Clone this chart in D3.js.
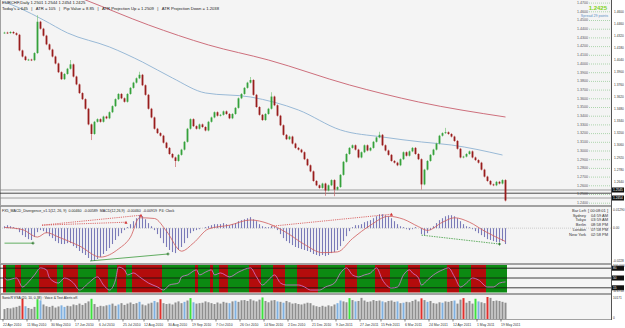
<!DOCTYPE html>
<html lang="en">
	<head>
		<meta charset="utf-8">
		<title>EURCHF, Daily</title>
		<script type="text/javascript" src="https://cdn.jsdelivr.net/npm/d3@7"></script>
		<style type="text/css">
			body { margin: 0; background: #ffffff; }
			svg { display: block; font-family: "Liberation Sans", Arial, sans-serif; }
		</style>
	</head>
	<body>
		<script type="text/javascript">

			//Width and height
			var w = 625;
			var h = 328;
			var plotRight = 611;

			//Daily closes, oldest first (22 Apr 2010 .. 19 May 2011)
			var firstOpen = 1.4352;
			var closes = [
				1.4355,1.4350,1.4362,1.4348,1.4330,1.4150,1.4080,1.4040,1.4045,1.4038,
				1.4120,1.4480,1.4400,1.4320,1.4220,1.4160,1.4080,1.4000,1.3900,1.3820,
				1.3880,1.3940,1.3990,1.3850,1.3760,1.3660,1.3590,1.3480,1.3300,1.3190,
				1.3330,1.3360,1.3330,1.3390,1.3370,1.3440,1.3510,1.3590,1.3650,1.3600,
				1.3560,1.3650,1.3720,1.3780,1.3830,1.3870,1.3750,1.3640,1.3480,1.3380,
				1.3250,1.3200,1.3170,1.3090,1.3030,1.2960,1.2920,1.2880,1.2950,1.3010,
				1.3100,1.3250,1.3360,1.3280,1.3250,1.3300,1.3270,1.3230,1.3330,1.3380,
				1.3440,1.3400,1.3410,1.3450,1.3420,1.3370,1.3420,1.3490,1.3600,1.3650,
				1.3720,1.3780,1.3810,1.3640,1.3500,1.3410,1.3350,1.3420,1.3480,1.3620,
				1.3520,1.3400,1.3290,1.3180,1.3130,1.3160,1.3080,1.3030,1.3010,1.2980,
				1.2900,1.2830,1.2760,1.2650,1.2600,1.2570,1.2620,1.2540,1.2600,1.2660,
				1.2550,1.2580,1.2720,1.2870,1.2960,1.3030,1.3060,1.3010,1.2920,1.2980,
				1.3060,1.3000,1.3030,1.3100,1.3150,1.3180,1.3060,1.3000,1.2950,1.2880,
				1.2860,1.2830,1.2900,1.2980,1.2940,1.2990,1.3030,1.2960,1.2900,1.2610,
				1.2780,1.2880,1.2950,1.3010,1.3080,1.3170,1.3200,1.3210,1.3190,1.3160,
				1.3110,1.3020,1.2920,1.2930,1.2960,1.2990,1.2920,1.2890,1.2860,1.2780,
				1.2700,1.2650,1.2610,1.2600,1.2640,1.2620,1.2660,1.2425
			];

			//Bars whose wick reaches well beyond the body
			var spikeBars  = [11, 22, 29, 45, 57, 82, 89, 107, 110, 125, 139, 147];
			var spikeHighs = [1.4555, 1.4040, null, 1.3905, null, 1.3845, 1.3670, null, null, 1.3215, null, 1.3260];
			var spikeLows  = [null, null, 1.3120, null, 1.2810, null, null, 1.2480, 1.2475, null, 1.2550, null];

			//Moving averages, read at a few bars
			var maBlueBars = [0, 5, 13, 21, 35, 46, 56, 67, 82, 98, 112, 126, 139, 149, 166];
			var maBlueVals = [1.4707, 1.4638, 1.4500, 1.4351, 1.4190, 1.4017, 1.3833, 1.3661, 1.3615, 1.3465, 1.3236, 1.3155, 1.3098, 1.3063, 1.2948];
			var maRedBars = [20, 27, 48, 68, 88, 115, 138, 167];
			var maRedVals = [1.4822, 1.4730, 1.4443, 1.4213, 1.4040, 1.3753, 1.3558, 1.3385];

			//Price labels drawn inside the chart, and the right axis
			var gridPrices = [1.47, 1.46, 1.45, 1.44, 1.43, 1.42, 1.41, 1.40, 1.39, 1.38, 1.37, 1.36,
				1.35, 1.34, 1.33, 1.32, 1.31, 1.30, 1.29, 1.28, 1.27, 1.26, 1.25, 1.24];
			var axisPrices = [1.4600, 1.4460, 1.4320, 1.4180, 1.4040, 1.3900, 1.3760, 1.3620,
				1.3480, 1.3340, 1.3200, 1.3060, 1.2920, 1.2780, 1.2640];
			var levelPrices = [1.2546, 1.2509, 1.2454];

			//MACD histogram per bar, in units of 0.0001
			var macdHist = [
				13,20,13,7,-7,-27,-47,-60,-74,-80,
				-60,-27,-13,-20,-34,-54,-67,-87,-101,-107,
				-107,-101,-101,-121,-134,-154,-168,-181,-201,-221,
				-221,-208,-194,-174,-154,-134,-107,-80,-54,-34,
				-13,7,27,47,67,87,80,60,34,13,
				-13,-40,-67,-101,-127,-147,-161,-168,-147,-127,
				-101,-67,-34,-20,-13,-7,0,7,13,20,
				27,27,27,34,27,20,27,34,47,54,
				60,67,74,60,47,27,13,7,7,13,
				7,-13,-40,-67,-87,-101,-114,-127,-134,-141,
				-147,-154,-161,-174,-181,-188,-181,-188,-181,-168,
				-161,-147,-121,-87,-54,-20,7,20,20,27,
				40,47,54,67,80,94,94,87,80,67,
				47,27,13,7,-7,-13,-7,7,0,-40,
				-47,-34,-13,13,34,54,67,80,87,87,
				80,67,47,27,13,7,-7,-20,-34,-47,
				-60,-74,-80,-87,-94,-94,-87,-107
			];
			var signalBars = [0, 6, 11, 14, 18, 25, 32, 38, 42, 45, 50, 54, 59, 63, 68, 75, 82, 88, 94, 100, 106, 111, 116, 122, 128, 133, 138, 141, 146, 150, 155, 160, 167];
			var signalVals = [5, -10, -60, -30, -60, -120, -195, -140, -60, 70, 65, -20, -155, -100, -5, 20, 55, 30, -30, -110, -165, -160, -70, 20, 80, 60, 10, -15, 40, 70, 40, -20, -90];

			//Divergence lines: [bar1, value1, bar2, value2]
			var bearLines = [[12.5, 20, 40.5, 40], [12.5, 20, 45.5, 87], [89, 13, 129, 94]];
			var bullLines = [[0, -101, 9.5, -101], [28.5, -221, 54.5, -174], [139, -47, 165, -107]];

			//Oscillator pane
			var oscBars = [0,1,4,6,8,10,12,14,15,18,20,23,25,28,31,33,35,37,38,40,41,43,45,48,51,53,55,58,59,61,64,65,67,69,70,72,75,78,82,84,86,88,90,92,94,98,100,102,105,107,110,112,114,116,118,120,122,124,126,129,131,133,135,136,138,139,141,143,146,148,150,152,154,156,158,161,163,165,167];
			var oscVals = [50,43,50,18,36,61,86,79,50,32,50,32,7,32,54,25,7,43,89,79,61,68,54,32,18,7,25,32,54,61,79,61,71,79,61,68,54,71,86,54,25,43,61,32,25,25,18,7,7,18,32,68,86,61,54,61,68,86,43,14,18,61,79,68,50,25,43,61,79,86,54,18,32,50,43,18,18,32,36];
			var oscLevels = [85, 50, 15];
			var bandStarts = [0,1,4,6,12,18,20,25,31,35,38,41,43,53,64,65,69,70,72,75,82,86,90,94,98,105,114,118,124,129,135,139,148,152,156,161];
			var bandEnds   = [1,4,6,12,18,20,25,31,35,38,41,43,53,64,65,69,70,72,75,82,86,90,94,98,105,114,118,124,129,135,139,148,152,156,161,168];
			var bandKinds  = ["dn","up","dn","up","dn","up","dn","up","dn","up","dn","up","dn","up","dn","up","dn","up","dn","up","dn","up","dn","up","dn","up","dn","up","dn","up","dn","up","dn","up","dn","up"];

			//Volume per bar
			var volumes = [
				45,50,48,52,55,60,92,58,50,46,55,90,85,66,58,55,60,52,57,62,
				55,60,58,66,63,70,64,72,80,92,68,55,60,58,62,65,70,60,66,72,
				64,70,75,68,72,78,66,62,70,74,82,76,90,72,68,70,66,75,80,72,
				78,84,95,76,70,72,74,80,76,72,68,75,70,78,74,72,80,83,78,85,
				86,82,90,84,80,88,98,82,76,84,86,80,78,74,82,76,70,72,68,66,
				70,74,72,62,58,55,60,56,62,58,66,72,84,80,76,95,86,80,82,96,
				84,78,80,86,82,84,80,76,82,84,78,80,72,74,78,76,82,88,80,94,
				86,78,82,72,70,76,74,80,78,82,84,70,88,95,74,82,70,92,80,76,
				72,100,96,82,84,82,78,74
			];
			var volRed = [6, 52, 139, 153, 161];
			var volGreen = [11, 29, 62, 86, 115, 157];
			var volBlue = [7, 12, 19, 20, 35, 38, 45, 50, 60, 63, 75, 77, 91, 93, 111, 112, 117, 126, 131, 133, 141, 146, 150, 158];

			//Date axis
			var dateBars = [0,8,16,24,32,40,47,55,63,71,79,87,95,103,111,119,126,134,142,150,158,166];
			var dateLabels = ["22 Apr 2010","11 May 2010","30 May 2010","17 Jun 2010","6 Jul 2010","25 Jul 2010",
				"12 Aug 2010","30 Aug 2010","19 Sep 2010","7 Oct 2010","26 Oct 2010","14 Nov 2010","2 Dec 2010",
				"21 Dec 2010","9 Jan 2011","27 Jan 2011","15 Feb 2011","6 Mar 2011","24 Mar 2011","12 Apr 2011",
				"1 May 2011","19 May 2011"];

			//Session clock
			var clockCities = ["Sydney", "Tokyo", "Berlin", "London", "New York"];
			var clockTimes = ["04:59 AM", "03:59 AM", "08:58 PM", "07:58 PM", "02:58 PM"];

			//Scales
			var xScale = d3.scaleLinear().domain([0, closes.length - 1]).range([4.5, 505.5]);
			var yPrice = d3.scaleLinear().domain([1.24, 1.47]).range([202.7, 2.6]);
			var yMacd = d3.scaleLinear().domain([-228, 129]).range([262, 209]);
			var yOsc = d3.scaleLinear().domain([0, 100]).range([292, 264]);
			var yVol = d3.scaleLinear().domain([0, 100]).range([319, 297]);

			//Create SVG element
			var svg = d3.select("body")
						.append("svg")
						.attr("width", w)
						.attr("height", h);

			svg.append("rect").attr("width", w).attr("height", h).attr("fill", "#ffffff");

			var defs = svg.append("defs");
			function addClip(id, y0, y1) {
				defs.append("clipPath").attr("id", id)
					.append("rect").attr("x", 0).attr("y", y0).attr("width", plotRight).attr("height", y1 - y0);
			}
			addClip("clipMain", 0, 205);
			addClip("clipMacd", 207, 263);
			addClip("clipOsc", 265, 293);
			addClip("clipVol", 295, 319);

			//Pane backgrounds
			function pane(y0, y1) {
				svg.append("rect")
					.attr("x", 0.5).attr("y", y0 + 0.5)
					.attr("width", plotRight).attr("height", y1 - y0)
					.attr("fill", "#f4f4f4")
					.attr("stroke", "#8c8c8c")
					.attr("stroke-width", 0.8);
			}
			pane(-1, 205);
			pane(206, 263);
			pane(264, 293);
			pane(294, 319);

			//---------- Main price pane ----------
			var main = svg.append("g").attr("clip-path", "url(#clipMain)");

			//Inner price labels with dotted guide lines
			main.selectAll("line.guide")
				.data(gridPrices)
				.enter()
				.append("line")
				.attr("class", "guide")
				.attr("x1", 589).attr("x2", plotRight)
				.attr("y1", function(d) { return yPrice(d) + 0.5; })
				.attr("y2", function(d) { return yPrice(d) + 0.5; })
				.attr("stroke", "#7cc07c")
				.attr("stroke-width", 0.6)
				.attr("stroke-dasharray", "1,1");

			main.selectAll("text.grid")
				.data(gridPrices)
				.enter()
				.append("text")
				.attr("class", "grid")
				.attr("x", 588)
				.attr("y", function(d) { return yPrice(d) + 1.3; })
				.attr("text-anchor", "end")
				.attr("font-size", "3.6px")
				.attr("fill", "#555555")
				.text(function(d) { return d.toFixed(4); });

			//Horizontal levels near the lows
			main.selectAll("line.level")
				.data(levelPrices)
				.enter()
				.append("line")
				.attr("class", "level")
				.attr("x1", 0).attr("x2", plotRight)
				.attr("y1", function(d) { return yPrice(d); })
				.attr("y2", function(d) { return yPrice(d); })
				.attr("stroke", function(d, i) { return i == 1 ? "#222222" : "#8a8a8a"; })
				.attr("stroke-width", 0.8);

			//Moving averages
			var maLine = d3.line()
				.x(function(d) { return xScale(d[0]); })
				.y(function(d) { return yPrice(d[1]); })
				.curve(d3.curveMonotoneX);

			main.append("path")
				.datum(d3.zip(maRedBars, maRedVals))
				.attr("d", maLine)
				.attr("fill", "none")
				.attr("stroke", "#c8606e")
				.attr("stroke-width", 0.9);

			main.append("path")
				.datum(d3.zip(maBlueBars, maBlueVals))
				.attr("d", maLine)
				.attr("fill", "none")
				.attr("stroke", "#8fb2d2")
				.attr("stroke-width", 0.9);

			//Candles
			var candles = closes.map(function(c, i) {
				var o = i == 0 ? firstOpen : closes[i - 1];
				var hi = Math.max(o, c) + 0.0010;
				var lo = Math.min(o, c) - 0.0010;
				var k = spikeBars.indexOf(i);
				if (k >= 0 && spikeHighs[k] != null) { hi = spikeHighs[k]; }
				if (k >= 0 && spikeLows[k] != null) { lo = spikeLows[k]; }
				return { i: i, o: o, h: hi, l: lo, c: c };
			});

			main.selectAll("line.wick")
				.data(candles)
				.enter()
				.append("line")
				.attr("class", "wick")
				.attr("x1", function(d) { return xScale(d.i); })
				.attr("x2", function(d) { return xScale(d.i); })
				.attr("y1", function(d) { return yPrice(d.h); })
				.attr("y2", function(d) { return yPrice(d.l); })
				.attr("stroke", function(d) { return d.c >= d.o ? "#7cc47c" : "#c86a6a"; })
				.attr("stroke-width", 0.7);

			main.selectAll("rect.body")
				.data(candles)
				.enter()
				.append("rect")
				.attr("class", "body")
				.attr("x", function(d) { return xScale(d.i) - 0.9; })
				.attr("width", 1.8)
				.attr("y", function(d) { return yPrice(Math.max(d.o, d.c)); })
				.attr("height", function(d) { return Math.max(0.8, Math.abs(yPrice(d.o) - yPrice(d.c))); })
				.attr("fill", function(d) { return d.c >= d.o ? "#34a13a" : "#981c1c"; });

			//Header text
			svg.append("text")
				.attr("x", 2).attr("y", 4.2)
				.attr("font-size", "4.2px").attr("fill", "#222222")
				.text("EURCHF,Daily  1.2501 1.2544 1.2454 1.2425");
			svg.append("text")
				.attr("x", 2).attr("y", 9.6)
				.attr("font-size", "4.2px").attr("fill", "#222222")
				.attr("xml:space", "preserve")
				.text("Today's = 645   |   ATR = 105   |   Pip Value = 8.85   |   ATR Projection Up = 1.2509   |   ATR Projection Down = 1.2038");

			svg.append("text")
				.attr("x", 607).attr("y", 9.6)
				.attr("text-anchor", "end")
				.attr("font-size", "6px").attr("font-weight", "bold")
				.attr("fill", "#7ed321")
				.text("1.2425");
			svg.append("text")
				.attr("x", 608).attr("y", 16.8)
				.attr("text-anchor", "end")
				.attr("font-size", "3.6px")
				.attr("fill", "#5b8ec4")
				.text("Spread 29 points");

			//---------- MACD pane ----------
			var macd = svg.append("g").attr("clip-path", "url(#clipMacd)");

			macd.append("line")
				.attr("x1", 0).attr("x2", plotRight)
				.attr("y1", yMacd(0)).attr("y2", yMacd(0))
				.attr("stroke", "#b0b0b0").attr("stroke-width", 0.6)
				.attr("stroke-dasharray", "1,1");

			macd.selectAll("line.hist")
				.data(macdHist)
				.enter()
				.append("line")
				.attr("class", "hist")
				.attr("x1", function(d, i) { return xScale(i); })
				.attr("x2", function(d, i) { return xScale(i); })
				.attr("y1", yMacd(0))
				.attr("y2", function(d) { return yMacd(d); })
				.attr("stroke", "#7a7ab8")
				.attr("stroke-width", 1.1);

			macd.append("path")
				.datum(d3.zip(signalBars, signalVals))
				.attr("d", d3.line()
					.x(function(d) { return xScale(d[0]); })
					.y(function(d) { return yMacd(d[1]); })
					.curve(d3.curveMonotoneX))
				.attr("fill", "none")
				.attr("stroke", "#d05a5a")
				.attr("stroke-width", 0.8);

			macd.selectAll("line.bear")
				.data(bearLines)
				.enter()
				.append("line")
				.attr("x1", function(d) { return xScale(d[0]); })
				.attr("y1", function(d) { return yMacd(d[1]); })
				.attr("x2", function(d) { return xScale(d[2]); })
				.attr("y2", function(d) { return yMacd(d[3]); })
				.attr("stroke", "#d03030").attr("stroke-width", 0.7)
				.attr("stroke-dasharray", "1.2,1");

			macd.selectAll("line.bull")
				.data(bullLines)
				.enter()
				.append("line")
				.attr("x1", function(d) { return xScale(d[0]); })
				.attr("y1", function(d) { return yMacd(d[1]); })
				.attr("x2", function(d) { return xScale(d[2]); })
				.attr("y2", function(d) { return yMacd(d[3]); })
				.attr("stroke", "#3c9a3c").attr("stroke-width", 0.8)
				.attr("stroke-dasharray", function(d, i) { return i == 2 ? "1.5,1" : null; });

			//Divergence markers
			macd.selectAll("path.bearMark")
				.data(bearLines)
				.enter()
				.append("path")
				.attr("d", function(d) {
					var x = xScale(d[2]), y = yMacd(d[3]);
					return "M" + (x - 1.5) + "," + (y + 1.5) + "L" + x + "," + (y - 1.5) + "L" + (x + 1.5) + "," + (y + 1.5) + "Z";
				})
				.attr("fill", "#d03030");
			macd.selectAll("path.bullMark")
				.data(bullLines)
				.enter()
				.append("path")
				.attr("d", function(d) {
					var x = xScale(d[2]), y = yMacd(d[3]);
					return "M" + (x - 1.5) + "," + y + "H" + (x + 1.5) + "M" + x + "," + (y - 1.5) + "V" + (y + 1.5);
				})
				.attr("stroke", "#1f6f1f").attr("stroke-width", 0.8);

			svg.append("text")
				.attr("x", 2).attr("y", 212)
				.attr("font-size", "3.6px").attr("fill", "#222222")
				.attr("xml:space", "preserve")
				.text("FX5_MACD_Divergence_v1.1(12, 26, 9)  0.00460  -0.00589  MACD(12,26,9)  -0.00460  -0.00919  P4: Clock");

			//Clock block
			svg.append("text")
				.attr("x", 586).attr("y", 211.5)
				.attr("text-anchor", "end")
				.attr("font-size", "4px").attr("fill", "#333333")
				.text("Bar Left");
			svg.append("text")
				.attr("x", 588).attr("y", 211.5)
				.attr("font-size", "4px").attr("fill", "#333333")
				.text("[ 00:08:01 ]");
			svg.selectAll("text.city")
				.data(clockCities)
				.enter()
				.append("text")
				.attr("x", 586)
				.attr("y", function(d, i) { return 216.5 + i * 4.8; })
				.attr("text-anchor", "end")
				.attr("font-size", "4px").attr("fill", "#333333")
				.text(function(d) { return d; });
			svg.selectAll("text.time")
				.data(clockTimes)
				.enter()
				.append("text")
				.attr("x", 608)
				.attr("y", function(d, i) { return 216.5 + i * 4.8; })
				.attr("text-anchor", "end")
				.attr("font-size", "4px").attr("fill", "#333333")
				.text(function(d) { return d; });

			//---------- Oscillator pane ----------
			var osc = svg.append("g").attr("clip-path", "url(#clipOsc)");

			osc.selectAll("rect.band")
				.data(bandStarts)
				.enter()
				.append("rect")
				.attr("x", function(d) { return xScale(d) - 1.5; })
				.attr("width", function(d, i) { return xScale(bandEnds[i]) - xScale(d); })
				.attr("y", 265)
				.attr("height", 27.5)
				.attr("fill", function(d, i) { return bandKinds[i] == "up" ? "#0c8a12" : "#b40c0c"; });

			osc.selectAll("line.oscLevel")
				.data(oscLevels)
				.enter()
				.append("line")
				.attr("x1", 0).attr("x2", plotRight)
				.attr("y1", function(d) { return yOsc(d); })
				.attr("y2", function(d) { return yOsc(d); })
				.attr("stroke", "#111111").attr("stroke-width", 0.8);

			osc.append("path")
				.datum(d3.zip(oscBars, oscVals))
				.attr("d", d3.line()
					.x(function(d) { return xScale(d[0]); })
					.y(function(d) { return yOsc(d[1]); })
					.curve(d3.curveMonotoneX))
				.attr("fill", "none")
				.attr("stroke", "#d27ad6")
				.attr("stroke-width", 0.8);

			//---------- Volume pane ----------
			var vol = svg.append("g").attr("clip-path", "url(#clipVol)");

			vol.selectAll("rect.vol")
				.data(volumes)
				.enter()
				.append("rect")
				.attr("class", "vol")
				.attr("x", function(d, i) { return xScale(i) - 1; })
				.attr("width", 2)
				.attr("y", function(d) { return yVol(d); })
				.attr("height", function(d) { return yVol(0) - yVol(d); })
				.attr("fill", function(d, i) {
					if (volRed.indexOf(i) >= 0) { return "#e0302c"; }
					if (volGreen.indexOf(i) >= 0) { return "#3ee03e"; }
					if (volBlue.indexOf(i) >= 0) { return "#7fb0e0"; }
					return "#8e8e8e";
				});

			svg.append("text")
				.attr("x", 2).attr("y", 298.5)
				.attr("font-size", "3.4px").attr("fill", "#222222")
				.text("SonicR VSA (20, 10, 0.38) : Voice & Text Alerts off.");

			//---------- Right axis ----------
			svg.append("rect")
				.attr("x", plotRight + 0.5).attr("y", 0)
				.attr("width", w - plotRight).attr("height", 320)
				.attr("fill", "#ffffff");
			svg.append("line")
				.attr("x1", plotRight + 0.5).attr("x2", plotRight + 0.5)
				.attr("y1", 0).attr("y2", 320)
				.attr("stroke", "#333333").attr("stroke-width", 0.8);

			svg.selectAll("text.axis")
				.data(axisPrices)
				.enter()
				.append("text")
				.attr("x", 614)
				.attr("y", function(d) { return yPrice(d) + 1.2; })
				.attr("font-size", "3.2px").attr("fill", "#333333")
				.text(function(d) { return d.toFixed(4); });

			//Black price tags on the axis
			var tags = [
				{ y: yPrice(levelPrices[0]), t: "1.2545" },
				{ y: yPrice(levelPrices[2]), t: "1.2454" },
				{ y: yOsc(oscLevels[0]), t: "85" },
				{ y: yOsc(oscLevels[1]), t: "50" },
				{ y: yOsc(oscLevels[2]), t: "15" }
			];
			svg.selectAll("rect.tag")
				.data(tags)
				.enter()
				.append("rect")
				.attr("x", plotRight + 1).attr("y", function(d) { return d.y - 2.5; })
				.attr("width", 12).attr("height", 5)
				.attr("fill", "#111111");
			svg.selectAll("text.tag")
				.data(tags)
				.enter()
				.append("text")
				.attr("x", plotRight + 2).attr("y", function(d) { return d.y + 1.2; })
				.attr("font-size", "3.2px").attr("fill", "#ffffff")
				.text(function(d) { return d.t; });

			var paneLabels = [
				{ y: 210.5, t: "0.01290" }, { y: yMacd(0) + 1.2, t: "0.00" }, { y: 261.5, t: "-0.0228" },
				{ y: 266.5, t: "100.000" }, { y: 292, t: "-4.6710" },
				{ y: 298.5, t: "10171" }, { y: 318.5, t: "0" }
			];
			svg.selectAll("text.paneLabel")
				.data(paneLabels)
				.enter()
				.append("text")
				.attr("x", 613)
				.attr("y", function(d) { return d.y; })
				.attr("font-size", "3.2px").attr("fill", "#333333")
				.text(function(d) { return d.t; });

			//---------- Date axis ----------
			svg.selectAll("line.dtick")
				.data(dateBars)
				.enter()
				.append("line")
				.attr("x1", function(d) { return xScale(d) - 1.5; })
				.attr("x2", function(d) { return xScale(d) - 1.5; })
				.attr("y1", 319).attr("y2", 321.5)
				.attr("stroke", "#333333").attr("stroke-width", 0.6);

			svg.selectAll("text.date")
				.data(dateBars)
				.enter()
				.append("text")
				.attr("x", function(d) { return xScale(d) - 1.5; })
				.attr("y", 325.5)
				.attr("font-size", "3.4px").attr("fill", "#333333")
				.text(function(d, i) { return dateLabels[i]; });

		</script>
	</body>
</html>
